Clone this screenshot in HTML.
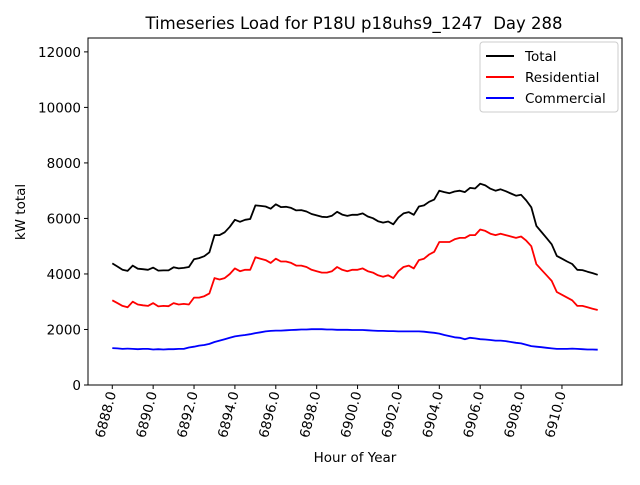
<!DOCTYPE html>
<html><head><meta charset="utf-8"><style>
body{margin:0;background:#fff;}
svg text{font-family:"DejaVu Sans","Liberation Sans",sans-serif;}
</style></head><body>
<svg id="chart" width="640" height="480" xmlns="http://www.w3.org/2000/svg">
<rect width="640" height="480" fill="#fff"/>
<text x="354" y="29" font-size="16.5" text-anchor="middle">Timeseries Load for P18U p18uhs9_1247 &#160;Day 288</text>
<g id="plot"></g>
<rect x="88" y="38" width="534" height="347" fill="none" stroke="#000" stroke-width="1"/>
<text x="355" y="462" font-size="13.5" text-anchor="middle">Hour of Year</text>
<text transform="translate(25,212) rotate(-90)" font-size="13.5" text-anchor="middle">kW total</text>
<g>
<rect x="480" y="42" width="138" height="70" rx="3" fill="#fff" stroke="#ccc" stroke-width="1"/>
<line x1="486" y1="56" x2="514" y2="56" stroke="#000" stroke-width="2"/>
<text x="525" y="61" font-size="13.5">Total</text>
<line x1="486" y1="77" x2="514" y2="77" stroke="#f00" stroke-width="2"/>
<text x="525" y="82" font-size="13.5">Residential</text>
<line x1="486" y1="98" x2="514" y2="98" stroke="#00f" stroke-width="2"/>
<text x="525" y="103" font-size="13.5">Commercial</text>
</g>
</svg>
<script>
const startHour = 6888;
const stepHours = 0.25;
const residential = [3050,2950,2850,2800,3000,2900,2870,2850,2950,2830,2850,2840,2950,2900,2920,2900,
3150,3150,3200,3300,3850,3800,3850,4000,4200,4100,4150,4150,4600,4550,4500,4400,
4550,4450,4450,4400,4300,4300,4250,4150,4100,4050,4050,4100,4250,4150,4100,4150,
4150,4200,4100,4050,3950,3900,3950,3850,4100,4250,4300,4200,4500,4550,4700,4800,
5150,5150,5150,5250,5300,5300,5400,5400,5600,5550,5450,5400,5450,5400,5350,5300,
5350,5200,5000,4350,4150,3950,3750,3350,3250,3150,3050,2850,2850,2800,2750,2700];
const commercial = [1330,1320,1300,1310,1300,1290,1300,1300,1280,1290,1280,1290,1290,1300,1300,1350,
1380,1420,1440,1480,1550,1600,1650,1700,1750,1780,1800,1830,1870,1900,1930,1950,
1960,1960,1970,1980,1990,2000,2000,2010,2010,2010,2000,2000,1990,1990,1990,1980,
1980,1980,1970,1960,1950,1950,1940,1940,1930,1930,1930,1930,1930,1920,1900,1880,
1850,1800,1760,1720,1700,1650,1700,1680,1650,1640,1620,1600,1600,1580,1550,1520,
1500,1450,1400,1380,1360,1340,1320,1300,1300,1300,1310,1300,1290,1280,1280,1270];
const yTicks = [0,2000,4000,6000,8000,10000,12000];
const xTicks = [6888,6890,6892,6894,6896,6898,6900,6902,6904,6906,6908,6910];

const L=88,R=622,T=38,B=385;
const xMin=6886.8125,xMax=6912.9375,yMin=0,yMax=12500;
const sx=v=>L+(v-xMin)/(xMax-xMin)*(R-L);
const sy=v=>B-(v-yMin)/(yMax-yMin)*(B-T);
const NS="http://www.w3.org/2000/svg";
const g=document.getElementById('plot');
function mk(tag,attrs){const e=document.createElementNS(NS,tag);for(const k in attrs)e.setAttribute(k,attrs[k]);g.appendChild(e);return e;}

yTicks.forEach(v=>{
  const t=mk('line',{x1:L-4,x2:L,y1:sy(v),y2:sy(v),stroke:'#000'});
  
  
  const tx=mk('text',{x:L-7,y:sy(v)+5,'font-size':'13.5','text-anchor':'end'});
  tx.textContent=v;
  
  
});
xTicks.forEach(v=>{
  const x=sx(v);
  const t=mk('line',{x1:x,x2:x,y1:B,y2:B+4,stroke:'#000'});
  
  
  const tx=mk('text',{transform:`translate(${x+4},${B+8}) rotate(-75)`,'font-size':'13.5','text-anchor':'end'});
  tx.textContent=v.toFixed(1);
  
  
});
const total = residential.map((r,i)=>r+commercial[i]);
function line(vals,color,name){
  const pts=vals.map((v,i)=>sx(startHour+i*stepHours).toFixed(1)+','+sy(v).toFixed(1)).join(' ');
  const p=mk('polyline',{points:pts,fill:'none',stroke:color,'stroke-width':'1.8','stroke-linejoin':'round'});
  
  
}
line(total,'#000','total-line');
line(residential,'#f00','residential-line');
line(commercial,'#00f','commercial-line');
</script>
</body></html>
